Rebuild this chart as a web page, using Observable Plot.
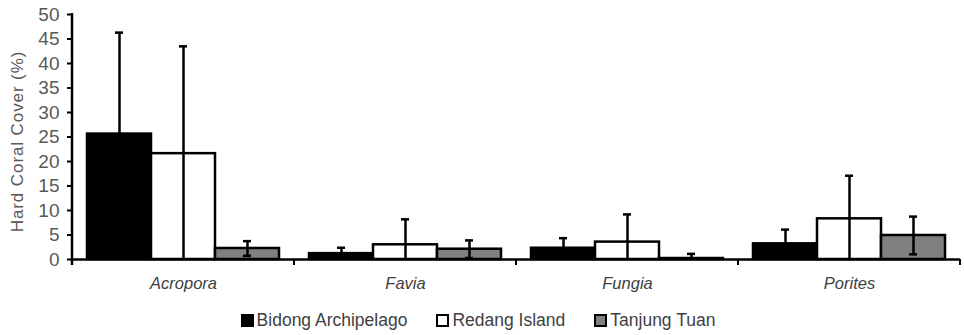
<!DOCTYPE html>
<html>
<head>
<meta charset="utf-8">
<script src="https://cdn.jsdelivr.net/npm/d3@7"></script>
<script src="https://cdn.jsdelivr.net/npm/@observablehq/plot@0.6"></script>
<style>
  html, body { margin: 0; padding: 0; background: #fff; }
  #chart svg { display: block; }
  .legend { display: flex; justify-content: center; align-items: center; gap: 29px;
    font-family: "Liberation Sans", Arial, sans-serif; font-size: 17.5px; color: #404040;
    height: 35px; padding-top: 6px; padding-right: 8px; box-sizing: border-box; }
  .legend .item { display: flex; align-items: center; }
  .legend .sw { width: 9px; height: 9px; border: 2px solid #000; margin-right: 3px; }
</style>
</head>
<body>
<div id="chart"></div>
<div class="legend" id="legend"></div>
<script>
const categories = ["Acropora", "Favia", "Fungia", "Porites"];
const series = ["Bidong Archipelago", "Redang Island", "Tanjung Tuan"];
const colors = ["#000000", "#ffffff", "#808080"];
const bidong = [25.6, 1.2, 2.3, 3.2];
const bidongErr = [20.7, 1.2, 2.05, 2.9];
const redang = [21.6, 3.0, 3.55, 8.3];
const redangErr = [21.9, 5.2, 5.65, 8.8];
const tanjung = [2.25, 2.1, 0.2, 4.9];
const tanjungErr = [1.5, 1.8, 0.95, 3.85];
const yTicks = [0, 5, 10, 15, 20, 25, 30, 35, 40, 45, 50];
const yLabel = "Hard Coral Cover (%)";

const values = [bidong, redang, tanjung];
const errs = [bidongErr, redangErr, tanjungErr];
const data = [];
categories.forEach((c, i) => {
  series.forEach((s, j) => {
    const v = values[j][i], e = errs[j][i];
    data.push({category: c, series: s, value: v, lo: Math.max(0, v - e), hi: v + e, hasLo: v - e > 0});
  });
});

const chart = Plot.plot({
  width: 964,
  height: 300,
  marginLeft: 70,
  marginRight: 3,
  marginTop: 14,
  marginBottom: 41,
  style: {fontFamily: "Liberation Sans, Arial, sans-serif", fontSize: "16px", background: "#fff"},
  fx: {domain: categories, padding: 0, label: null},
  x: {domain: series, paddingInner: 0, paddingOuter: 0.216, axis: null},
  y: {domain: [0, 50], label: null},
  color: {domain: series, range: colors},
  marks: [
    Plot.barY(data, {fx: "category", x: "series", y: "value", fill: "series", stroke: "#000", strokeWidth: 2.5}),
    Plot.ruleX(data, {fx: "category", x: "series", y1: "lo", y2: "hi", stroke: "#000", strokeWidth: 2.5}),
    Plot.tickY(data, {fx: "category", x: "series", y: "hi", stroke: "#000", strokeWidth: 2.5, insetLeft: 28, insetRight: 28}),
    Plot.tickY(data.filter(d => d.hasLo), {fx: "category", x: "series", y: "lo", stroke: "#000", strokeWidth: 2.5, insetLeft: 28, insetRight: 28}),
    Plot.ruleY([0], {stroke: "#000", strokeWidth: 2.5}),
    Plot.axisY({ticks: yTicks, tickSize: 5, tickPadding: 8, stroke: "#000", strokeWidth: 2, fill: "#595959", fontSize: 19,
      label: null}),
    Plot.axisFx({anchor: "bottom", tickSize: 0, tickPadding: 18, fontStyle: "italic", fontSize: 16.5, fill: "#404040", label: null})
  ]
});

// y-axis line, y label and category boundary ticks from the library's scales
const svg = d3.select(chart);
const fx = chart.scale("fx");
const y = chart.scale("y");
const x0 = fx.apply(categories[0]);
const y0 = y.apply(0), y50 = y.apply(50);
svg.append("line").attr("x1", x0).attr("x2", x0).attr("y1", y50 - 1).attr("y2", y0 + 6)
  .attr("stroke", "#000").attr("stroke-width", 2.5);
const bounds = categories.map(c => fx.apply(c)).concat([fx.apply(categories[categories.length - 1]) + fx.bandwidth]);
bounds.slice(1).forEach(b => {
  svg.append("line").attr("x1", b).attr("x2", b).attr("y1", y0).attr("y2", y0 + 6)
    .attr("stroke", "#000").attr("stroke-width", 2);
});
const yc = (y0 + y50) / 2 + 5;
svg.append("text")
  .attr("transform", `translate(${x0 - 49},${yc}) rotate(-90)`)
  .attr("text-anchor", "middle")
  .attr("fill", "#595959")
  .style("font-size", "17px")
  .style("letter-spacing", "0.9px")
  .text(yLabel);
document.getElementById("chart").appendChild(chart);

const legend = document.getElementById("legend");
series.forEach((s, i) => {
  const item = document.createElement("div");
  item.className = "item";
  const sw = document.createElement("span");
  sw.className = "sw";
  sw.style.background = colors[i];
  const t = document.createElement("span");
  t.textContent = s;
  item.appendChild(sw); item.appendChild(t);
  legend.appendChild(item);
});
</script>
</body>
</html>
